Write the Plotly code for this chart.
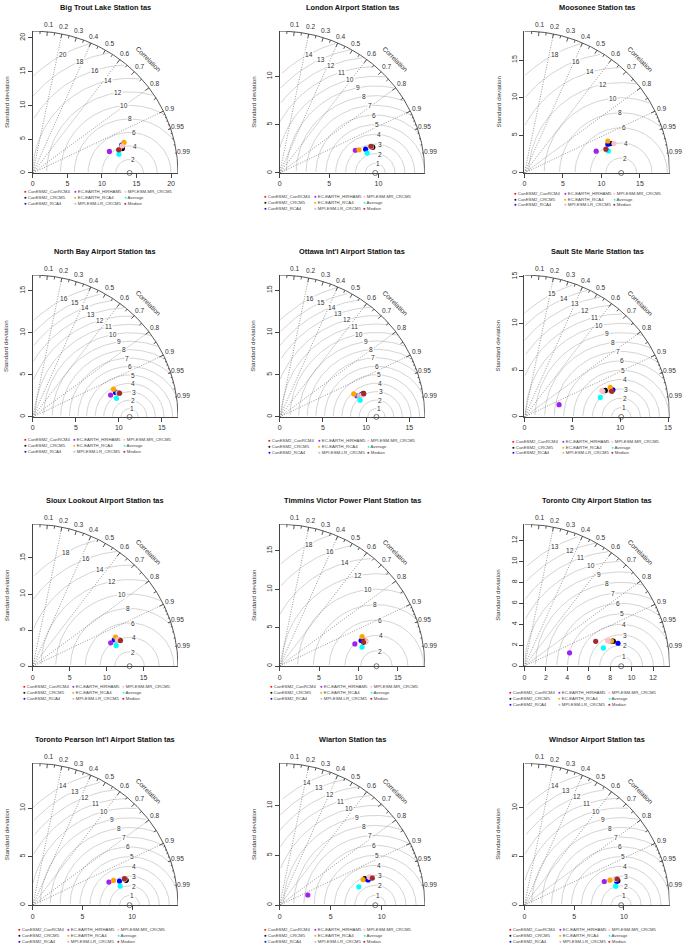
import numpy as np
import plotly.graph_objects as go

# ---------------- data ----------------
titles = ["Big Trout Lake Station tas", "London Airport Station tas", "Moosonee Station tas",
          "North Bay Airport Station tas", "Ottawa Int'l Airport Station tas", "Sault Ste Marie Station tas",
          "Sioux Lookout Airport Station tas", "Timmins Victor Power Plant Station tas",
          "Toronto City Airport Station tas", "Toronto Pearson Int'l Airport Station tas",
          "Wiarton Station tas", "Windsor Airport Station tas"]
models = ["CanESM2_CanRCM4", "CanESM2_CRCM5", "CanESM2_RCA4", "EC-EARTH_HIRHAM5", "EC-EARTH_RCA4",
          "MPI-ESM-LR_CRCM5", "MPI-ESM-MR_CRCM5", "Average", "Median"]
model_colors = ["#FF0000", "#000000", "#0000FF", "#A020F0", "#FFA500",
                "#BEBEBE", "#FFC0CB", "#00FFFF", "#A52A2A"]

# observed (reference) standard deviation per station
ref_sd = [14.0, 9.67, 12.57, 11.25, 11.2, 10.11, 13.11, 12.29, 9.03, 9.75, 9.38, 9.73]

# standard deviation / correlation per model (order as in `models`)
sd_big_trout = [13.30, 13.45, 13.50, 11.53, 13.95, 12.98, 13.51, 12.77, 12.88]
cor_big_trout = [0.963, 0.963, 0.952, 0.961, 0.946, 0.963, 0.955, 0.976, 0.964]
sd_london = [9.70, 9.79, 9.04, 8.01, 8.38, 9.55, 9.68, 9.09, 9.65]
cor_london = [0.961, 0.962, 0.962, 0.956, 0.958, 0.959, 0.960, 0.974, 0.958]
sd_moosonee = [11.73, 11.84, 11.50, 9.76, 11.64, 11.16, 12.26, 11.30, 11.05]
cor_moosonee = [0.942, 0.944, 0.943, 0.955, 0.931, 0.963, 0.948, 0.966, 0.958]
sd_north_bay = [10.35, 10.20, 10.05, 9.41, 9.94, 10.31, 10.40, 9.98, 10.47]
cor_north_bay = [0.961, 0.958, 0.957, 0.961, 0.943, 0.960, 0.962, 0.975, 0.963]
sd_ottawa = [10.04, 10.09, 9.82, 9.27, 9.00, 9.53, 9.89, 9.52, 10.11]
cor_ottawa = [0.962, 0.961, 0.963, 0.963, 0.953, 0.965, 0.965, 0.978, 0.962]
sd_sault = [9.50, 8.91, 9.69, 3.85, 9.51, 8.65, 8.57, 8.20, 9.54]
cor_sault = [0.955, 0.948, 0.954, 0.940, 0.943, 0.948, 0.945, 0.967, 0.958]
sd_sioux = [12.21, 12.29, 11.63, 11.04, 11.91, 11.98, 12.14, 11.66, 12.40]
cor_sioux = [0.955, 0.956, 0.949, 0.956, 0.941, 0.955, 0.953, 0.969, 0.958]
sd_timmins = [11.37, 11.10, 10.87, 9.98, 11.15, 11.24, 11.44, 10.76, 11.09]
cor_timmins = [0.958, 0.955, 0.952, 0.957, 0.939, 0.961, 0.960, 0.973, 0.960]
sd_toronto_city = [8.54, 8.63, 9.00, 4.40, 8.48, 8.26, 8.13, 7.57, 7.06]
cor_toronto_city = [0.960, 0.961, 0.970, 0.957, 0.959, 0.957, 0.954, 0.973, 0.942]
sd_pearson = [9.72, 9.75, 9.08, 8.03, 8.52, 9.59, 9.68, 9.02, 9.63]
cor_pearson = [0.962, 0.965, 0.962, 0.955, 0.954, 0.960, 0.960, 0.976, 0.959]
sd_wiarton = [9.31, 8.76, 9.03, 2.94, 8.57, 9.28, 9.21, 7.98, 9.49]
cor_wiarton = [0.956, 0.953, 0.960, 0.938, 0.954, 0.953, 0.952, 0.973, 0.958]
sd_windsor = [9.65, 9.73, 9.60, 8.39, 8.98, 9.57, 9.68, 9.38, 9.71]
cor_windsor = [0.964, 0.966, 0.967, 0.957, 0.958, 0.961, 0.960, 0.978, 0.961]

sd_all = [sd_big_trout, sd_london, sd_moosonee, sd_north_bay, sd_ottawa, sd_sault,
          sd_sioux, sd_timmins, sd_toronto_city, sd_pearson, sd_wiarton, sd_windsor]
cor_all = [cor_big_trout, cor_london, cor_moosonee, cor_north_bay, cor_ottawa, cor_sault,
           cor_sioux, cor_timmins, cor_toronto_city, cor_pearson, cor_wiarton, cor_windsor]

gamma_step = [2, 1, 2, 1, 1, 1, 2, 2, 1, 1, 1, 1]
axis_step = [5, 5, 5, 5, 5, 5, 5, 5, 2, 5, 5, 5]
corr_label_values = [0.1, 0.2, 0.3, 0.4, 0.5, 0.6, 0.7, 0.8, 0.9, 0.95, 0.99]
corr_label_text = ["0.1", "0.2", "0.3", "0.4", "0.5", "0.6", "0.7", "0.8", "0.9", "0.95", "0.99"]
grad_corr_lines = [0.2, 0.4, 0.6, 0.8, 0.9]

# ---------------- layout constants ----------------
W, H = 685, 947
COL_X = [31.0, 279.3, 525.5]
ROW_Y = [170.7, 415.7, 666.0, 906.0]
DW, DH = 146.0, 142.5
LEG_DY = [18.6, 23.6, 20.3, 22.6, 23.6, 24.3, 20.6, 20.6, 26.7, 24.7, 24.7, 24.7]
LEG_DX = [-9.3, -16.6, -11.4, -10, -12.6, -13.3, -11, -10, -16.7, -16, -16.6, -16.4]
LEG_ROW = 5.9
LEG_COL = 50.0
FONT = "Liberation Sans, Arial, Helvetica, sans-serif"
TXT = "#333333"
LINE = "#444444"


def px(x):
    return x / W


def py(y):
    return 1 - y / H


fig = go.Figure()
annotations = []

for i in range(12):
    r, c = divmod(i, 3)
    ox, oy = COL_X[c], ROW_Y[r]
    n = i + 1
    sfx = "" if n == 1 else str(n)
    xa, ya = "x" + sfx, "y" + sfx
    sd = np.array(sd_all[i])
    cr = np.array(cor_all[i])
    sdr = ref_sd[i]
    m = 1.5 * max(sd.max(), sdr)
    ticks = np.arange(0, m + 1e-9, axis_step[i])

    # data -> paper (used for text placed outside the axis ranges)
    def dpx(x, ox=ox, m=m):
        return px(ox + x / m * DW)

    def dpy(y, oy=oy, m=m):
        return py(oy - y / m * DH)

    common = dict(range=[0, m], tickvals=ticks, ticktext=[f"{t:g}" for t in ticks],
                  ticks="outside", ticklen=4, tickwidth=0.8, tickcolor=LINE,
                  showline=True, linecolor=LINE, linewidth=1, showgrid=False, zeroline=False,
                  tickfont=dict(size=7, color=TXT, family=FONT), fixedrange=True)
    fig.layout["xaxis" + sfx] = dict(domain=[px(ox), px(ox + DW)], anchor=ya, **common)
    fig.layout["yaxis" + sfx] = dict(domain=[py(oy), py(oy - DH)], anchor=xa, tickangle=-90, **common)

    # RMS (gamma) arcs centred on reference point
    t = np.arange(0, np.pi, 0.03)
    ng = int(np.floor(m / gamma_step[i] + 1e-9))
    gammas = gamma_step[i] * np.arange(1, ng + 1)
    labelpos = np.linspace(45, 70, len(gammas))
    gx, gy = [], []
    for k, g in enumerate(gammas):
        xc = np.cos(t) * g + sdr
        yc = np.sin(t) * g
        neg = np.where(xc < 0)[0]
        end = neg.min() - 1 if len(neg) else len(t) - 1
        out = np.where(xc * xc + yc * yc > m * m)[0]
        start = out.max() + 1 if len(out) else 0
        gx += list(xc[start:end + 1]) + [None]
        gy += list(yc[start:end + 1]) + [None]
        li = int(np.floor(labelpos[k])) - 1
        if xc[li] > 0:
            annotations.append(dict(text=f"{g:g}", x=dpx(xc[li]), y=dpy(yc[li]), xref="paper", yref="paper",
                                    showarrow=False, bgcolor="white", borderpad=0,
                                    xanchor="center", yanchor="middle",
                                    font=dict(size=6.6, color=TXT, family=FONT)))
    fig.add_trace(go.Scatter(x=gx, y=gy, mode="lines", xaxis=xa, yaxis=ya,
                             line=dict(color="#CFCFCF", width=0.9), hoverinfo="skip"))

    # correlation rays
    rx, ry = [], []
    for gcl in grad_corr_lines:
        rx += [0, m * gcl, None]
        ry += [0, m * np.sqrt(1 - gcl ** 2), None]
    fig.add_trace(go.Scatter(x=rx, y=ry, mode="lines", xaxis=xa, yaxis=ya,
                             line=dict(color="#6A6A6A", width=0.7, dash="1px,1.5px"), hoverinfo="skip"))

    # outer arc and correlation ticks
    a = np.append(np.arange(0, np.pi / 2, 0.01), np.pi / 2)
    ax_ = list(np.cos(a) * m) + [None]
    ay_ = list(np.sin(a) * m) + [None]
    for vals, inner in ((np.arange(0.1, 0.95, 0.1), 0.97),
                        (np.arange(0.05, 0.96, 0.1), 0.98),
                        (np.arange(0.91, 0.995, 0.01), 0.99)):
        ang = np.arccos(vals)
        for an in ang:
            ax_ += [np.cos(an) * m, np.cos(an) * m * inner, None]
            ay_ += [np.sin(an) * m, np.sin(an) * m * inner, None]
    fig.add_trace(go.Scatter(x=ax_, y=ay_, mode="lines", xaxis=xa, yaxis=ya,
                             line=dict(color=LINE, width=0.9), hoverinfo="skip"))

    # reference point
    fig.add_trace(go.Scatter(x=[sdr], y=[0], mode="markers", xaxis=xa, yaxis=ya, cliponaxis=False,
                             marker=dict(symbol="circle-open", size=5, color="#555555", line=dict(width=0.8)),
                             hoverinfo="skip"))

    # model points
    fig.add_trace(go.Scatter(x=sd * cr, y=sd * np.sqrt(1 - cr ** 2), mode="markers",
                             xaxis=xa, yaxis=ya, cliponaxis=False, text=models,
                             marker=dict(size=5.2, color=model_colors, line=dict(width=0))))

    # correlation labels
    for v, lab in zip(corr_label_values, corr_label_text):
        annotations.append(dict(text=lab, x=dpx(v * 1.05 * m), y=dpy(np.sqrt(1 - v * v) * 1.05 * m),
                                xref="paper", yref="paper", showarrow=False,
                                xanchor="center", yanchor="middle",
                                font=dict(size=6.6, color=TXT, family=FONT)))
    annotations.append(dict(text="Correlation", x=dpx(0.8 * m), y=dpy(0.8 * m), xref="paper", yref="paper",
                            showarrow=False, textangle=45, xanchor="center", yanchor="middle",
                            font=dict(size=6.6, color=TXT, family=FONT)))

    # title and y label
    annotations.append(dict(text="<b>" + titles[i] + "</b>", x=px(ox + 73), y=py(oy - 166),
                            xref="paper", yref="paper", showarrow=False, xanchor="center", yanchor="middle",
                            font=dict(size=7.4, color="#111111", family=FONT)))
    annotations.append(dict(text="Standard deviation", x=px(ox - 27), y=py(oy - DH / 2),
                            xref="paper", yref="paper", showarrow=False, textangle=-90,
                            xanchor="center", yanchor="middle",
                            font=dict(size=6.2, color=TXT, family=FONT)))

    # legend
    for j, (name, col) in enumerate(zip(models, model_colors)):
        cc, rr = divmod(j, 3)
        annotations.append(dict(
            text=f'<span style="color:{col}">●</span> {name}',
            x=px(ox + LEG_DX[i] + LEG_COL * cc - 1.3), y=py(oy + LEG_DY[i] + LEG_ROW * rr),
            xref="paper", yref="paper", showarrow=False, xanchor="left", yanchor="middle",
            font=dict(size=4.3, color="#444444", family=FONT)))

fig.update_layout(width=W, height=H, margin=dict(l=0, r=0, t=0, b=0), showlegend=False,
                  plot_bgcolor="white", paper_bgcolor="white", annotations=annotations,
                  font=dict(family=FONT))

fig.write_html("out.html", include_plotlyjs=True, config={"displayModeBar": False},
               post_script="document.body.style.margin='0';")
